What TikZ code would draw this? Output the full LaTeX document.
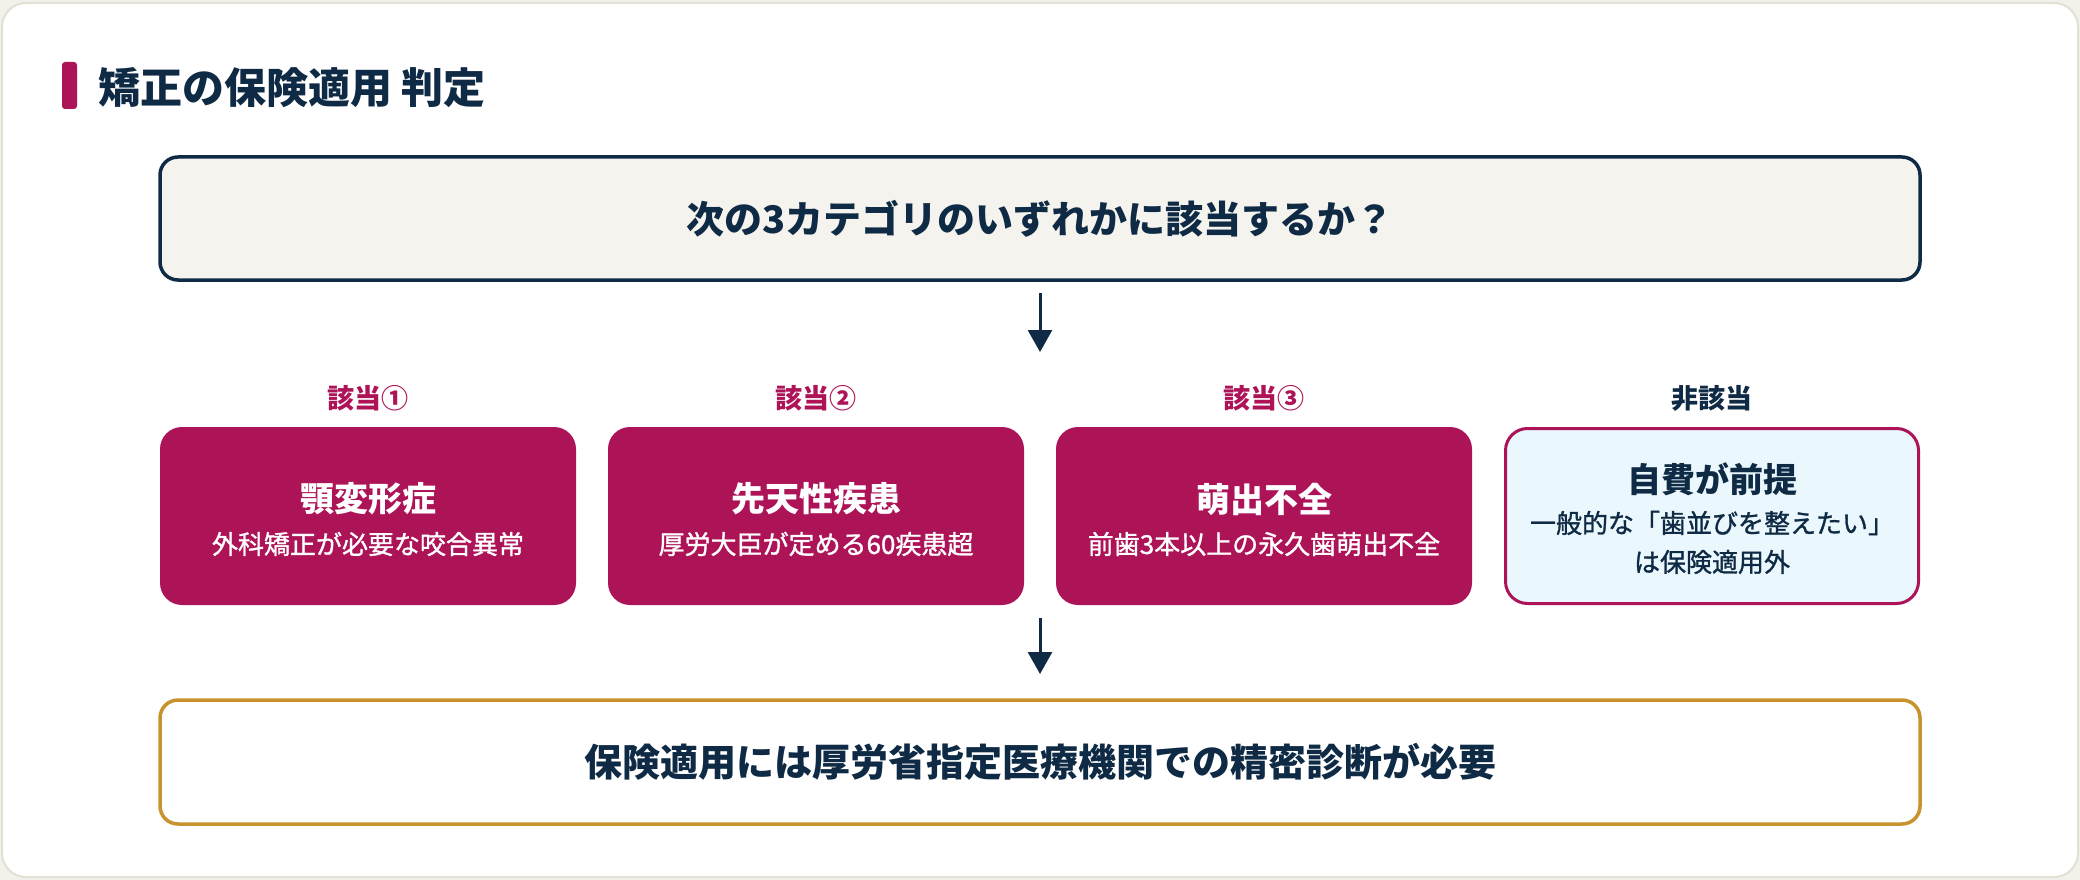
\documentclass[tikz,border=0pt]{standalone}
\usepackage{fontspec}
\setmainfont{Noto Sans CJK JP}
\newfontfamily\medfont[FakeBold=1.2]{Noto Sans CJK JP}
\usetikzlibrary{arrows.meta}
\definecolor{navy}{HTML}{0F2A44}
\definecolor{crim}{HTML}{AD1457}
\definecolor{gold}{HTML}{C8922F}
\definecolor{lblue}{HTML}{EAF7FC}
\definecolor{cream}{HTML}{F5F3EE}
\definecolor{cardline}{HTML}{E3E0D4}
\definecolor{pagebg}{HTML}{F2F1EA}
\tikzset{
  every node/.style={inner sep=0pt, outer sep=0pt},
  wide/.style={rectangle, rounded corners=18pt, minimum width=1760pt, line width=3.5pt},
  catbox/.style={rectangle, rounded corners=22pt, minimum width=416pt, minimum height=178pt, fill=crim},
  ngbox/.style={rectangle, rounded corners=22pt, minimum width=413pt, minimum height=175pt, fill=lblue, draw=crim, line width=3pt},
  bigtxt/.style={font=\fontsize{38pt}{46pt}\selectfont\bfseries, text=navy},
  lbl/.style={font=\fontsize{27pt}{32pt}\selectfont\bfseries, text=crim},
  ttl/.style={font=\fontsize{34pt}{40pt}\selectfont\bfseries, text=white},
  sub/.style={font=\fontsize{26pt}{31pt}\selectfont\medfont, text=white},
  arr/.style={draw=navy, line width=3pt, -{Triangle[length=22pt,width=24pt]}},
}
\begin{document}
\begin{tikzpicture}[x=1pt,y=-1pt]
\useasboundingbox (0,0) rectangle (2080,880);
\fill[pagebg] (0,0) rectangle (2080,880);
\draw[cardline, line width=2pt, fill=white, rounded corners=24pt] (2,3) rectangle (2078,877);
% title
\fill[crim, rounded corners=3pt] (62,62) rectangle (77,109);
\node[anchor=west, font=\fontsize{42pt}{50pt}\selectfont\bfseries, text=navy] (title) at (98,88) {矯正の保険適用 判定};
% top question
\node[wide, minimum height=123pt, draw=navy, fill=cream] (top) at (1040,218.5) {};
\node[bigtxt] (q) at (top.center) {次の3カテゴリのいずれかに該当するか？};
\coordinate (c1) at (1040,352);
\draw[arr, shorten <=13pt] (top.south) -- (c1);
% labels
\node[lbl] (l1) at (368,398) {該当①};
\node[lbl] (l2) at (816,398) {該当②};
\node[lbl] (l3) at (1264,398) {該当③};
\node[lbl, text=navy] (l4) at (1712,398) {非該当};
% boxes
\node[catbox] (b1) at (368,516) {};
\node[catbox] (b2) at (816,516) {};
\node[catbox] (b3) at (1264,516) {};
\node[ngbox] (b4) at (1712,516) {};
\node[ttl] (t1) at ([yshift=17pt]b1.center) {顎変形症};
\node[sub] (s1) at ([yshift=-28pt]b1.center) {外科矯正が必要な咬合異常};
\node[ttl] (t2) at ([yshift=17pt]b2.center) {先天性疾患};
\node[sub] (s2) at ([yshift=-28pt]b2.center) {厚労大臣が定める60疾患超};
\node[ttl] (t3) at ([yshift=17pt]b3.center) {萌出不全};
\node[sub] (s3) at ([yshift=-28pt]b3.center) {前歯3本以上の永久歯萌出不全};
\node[ttl, text=navy] (t4) at ([yshift=37pt]b4.center) {自費が前提};
\node[sub, text=navy] (s4) at ([yshift=-7pt]b4.center) {一般的な「歯並びを整えたい」};
\node[sub, text=navy] (s4b) at ([yshift=-46pt]b4.center) {は保険適用外};
% bottom
\coordinate (c2) at (1040,618);
\node[wide, minimum height=124pt, draw=gold, fill=white] (bot) at (1040,762) {};
\node[bigtxt] (r) at (bot.center) {保険適用には厚労省指定医療機関での精密診断が必要};
\draw[arr, shorten >=26pt] (c2) -- (bot.north);
\end{tikzpicture}
\end{document}
